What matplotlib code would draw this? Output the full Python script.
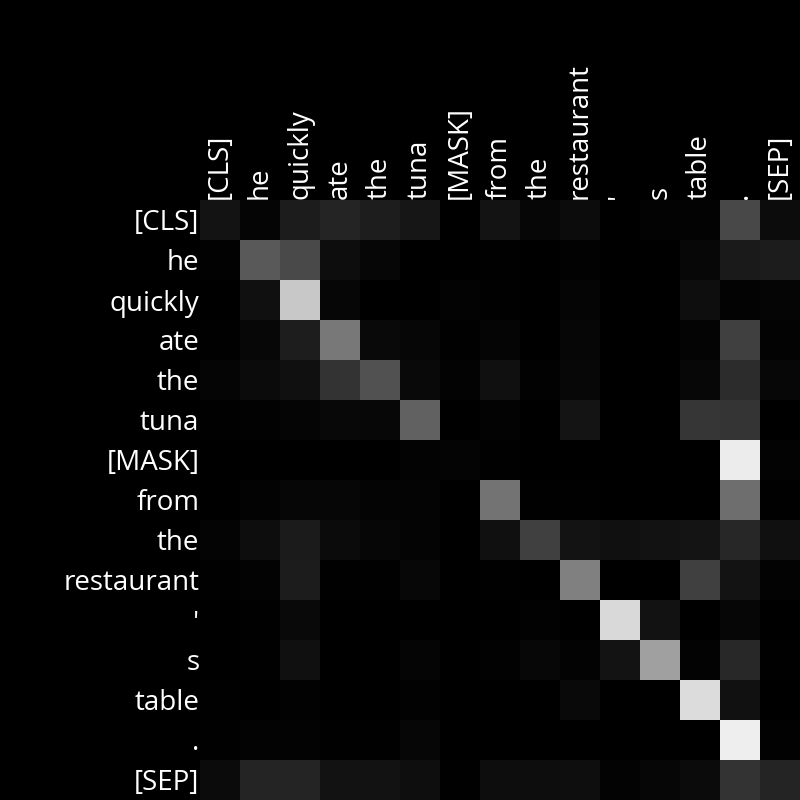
import numpy as np
import matplotlib
matplotlib.use('Agg')
import matplotlib.pyplot as plt

plt.rcParams['font.family'] = ['Open Sans', 'DejaVu Sans']

tokens = ['[CLS]', 'he', 'quickly', 'ate', 'the', 'tuna', '[MASK]', 'from',
          'the', 'restaurant', "'", 's', 'table', '.', '[SEP]']

row_cls        = [0.078, 0.020, 0.110, 0.145, 0.114, 0.086, 0.000, 0.075, 0.024, 0.047, 0.000, 0.012, 0.012, 0.282, 0.047]
row_he         = [0.008, 0.353, 0.290, 0.051, 0.027, 0.000, 0.000, 0.004, 0.000, 0.008, 0.000, 0.000, 0.031, 0.102, 0.110]
row_quickly    = [0.000, 0.063, 0.784, 0.024, 0.000, 0.000, 0.012, 0.004, 0.000, 0.020, 0.000, 0.000, 0.055, 0.012, 0.020]
row_ate        = [0.004, 0.031, 0.114, 0.471, 0.039, 0.027, 0.004, 0.020, 0.000, 0.024, 0.000, 0.000, 0.016, 0.251, 0.012]
row_the        = [0.020, 0.043, 0.063, 0.200, 0.318, 0.039, 0.012, 0.065, 0.008, 0.031, 0.000, 0.000, 0.031, 0.173, 0.031]
row_tuna       = [0.004, 0.008, 0.020, 0.035, 0.031, 0.384, 0.000, 0.012, 0.000, 0.082, 0.000, 0.000, 0.212, 0.208, 0.000]
row_mask       = [0.000, 0.000, 0.000, 0.000, 0.000, 0.012, 0.016, 0.004, 0.000, 0.000, 0.000, 0.000, 0.000, 0.922, 0.012]
row_from       = [0.000, 0.012, 0.024, 0.024, 0.016, 0.016, 0.000, 0.451, 0.004, 0.004, 0.000, 0.000, 0.000, 0.431, 0.004]
row_the2       = [0.016, 0.051, 0.106, 0.043, 0.027, 0.016, 0.000, 0.063, 0.251, 0.078, 0.063, 0.071, 0.082, 0.153, 0.063]
row_restaurant = [0.004, 0.012, 0.110, 0.004, 0.004, 0.031, 0.000, 0.004, 0.000, 0.502, 0.000, 0.000, 0.251, 0.075, 0.012]
row_apos       = [0.000, 0.004, 0.039, 0.000, 0.000, 0.000, 0.000, 0.000, 0.008, 0.000, 0.851, 0.071, 0.000, 0.024, 0.000]
row_s          = [0.000, 0.004, 0.063, 0.000, 0.000, 0.020, 0.000, 0.008, 0.031, 0.012, 0.078, 0.627, 0.012, 0.157, 0.004]
row_table      = [0.004, 0.000, 0.008, 0.000, 0.000, 0.008, 0.000, 0.000, 0.000, 0.039, 0.000, 0.000, 0.863, 0.067, 0.000]
row_period     = [0.004, 0.012, 0.012, 0.004, 0.004, 0.024, 0.000, 0.000, 0.000, 0.000, 0.000, 0.000, 0.000, 0.933, 0.008]
row_sep        = [0.043, 0.145, 0.141, 0.071, 0.071, 0.055, 0.004, 0.051, 0.051, 0.055, 0.012, 0.024, 0.043, 0.200, 0.141]

attn = np.array([row_cls, row_he, row_quickly, row_ate, row_the, row_tuna, row_mask,
                 row_from, row_the2, row_restaurant, row_apos, row_s, row_table,
                 row_period, row_sep])

fig = plt.figure(figsize=(8, 8), dpi=100, facecolor='black')
ax = fig.add_axes([0.25, 0.0, 0.75, 0.75])
ax.set_facecolor('black')
ax.imshow(attn, cmap='gray', vmin=0, vmax=1, aspect='auto', interpolation='nearest')

ax.set_xticks(range(len(tokens)))
ax.set_yticks(range(len(tokens)))
ax.set_xticklabels(tokens, rotation=90, fontsize=20, color='white')
ax.set_yticklabels(tokens, fontsize=20, color='white')
ax.xaxis.tick_top()
ax.tick_params(length=0, pad=0.5)
for s in ax.spines.values():
    s.set_visible(False)

fig.savefig('out.png', dpi=100, facecolor='black')
